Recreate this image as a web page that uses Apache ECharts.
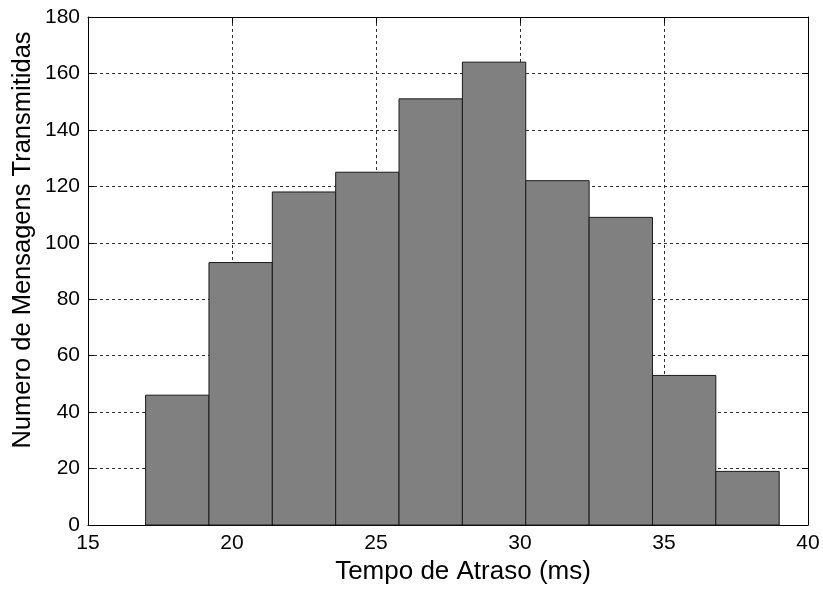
<!DOCTYPE html>
<html>
<head>
<meta charset="utf-8">
<script src="https://cdn.jsdelivr.net/npm/echarts@6/dist/echarts.min.js"></script>
<style>
html,body{margin:0;padding:0;background:#fff;}
#chart{width:823px;height:590px;}
</style>
</head>
<body>
<div id="chart"></div>
<script>
// Histogram bin edges (ms)
var binEdges = [17, 19.2, 21.4, 23.6, 25.8, 28, 30.2, 32.4, 34.6, 36.8, 39];
// Counts per bin
var counts = [46, 93, 118, 125, 151, 164, 122, 109, 53, 19];
var xTicks = [15, 20, 25, 30, 35, 40];
var yTicks = [0, 20, 40, 60, 80, 100, 120, 140, 160, 180];
var xTitle = 'Tempo de Atraso (ms)';
var yTitle = 'Numero de Mensagens Transmitidas';

var data = counts.map(function (c, i) { return [binEdges[i], binEdges[i + 1], c]; });

var font = '"Liberation Sans", Arial, sans-serif';
var chart = echarts.init(document.getElementById('chart'));
var gridLine = { show: true, lineStyle: { color: '#333', width: 1, type: [3, 3] } };
var axisBase = {
  axisLine: { show: true, onZero: false, lineStyle: { color: '#000', width: 1 } },
  axisTick: { show: true, inside: true, length: 6, lineStyle: { color: '#000' } }
};
chart.setOption({
  animation: false,
  backgroundColor: '#fff',
  grid: { left: 88, right: 15, top: 17, bottom: 65, containLabel: false },
  xAxis: [
    Object.assign({
      type: 'value', min: xTicks[0], max: xTicks[xTicks.length - 1], interval: 5,
      axisLabel: { color: '#000', fontSize: 21, fontFamily: font, margin: 8 },
      splitLine: gridLine
    }, axisBase),
    Object.assign({
      type: 'value', position: 'top', min: xTicks[0], max: xTicks[xTicks.length - 1], interval: 5,
      axisLabel: { show: false }, splitLine: { show: false }
    }, axisBase)
  ],
  yAxis: [
    Object.assign({
      type: 'value', min: yTicks[0], max: yTicks[yTicks.length - 1], interval: 20,
      axisLabel: { color: '#000', fontSize: 21, fontFamily: font, margin: 8 },
      splitLine: gridLine
    }, axisBase),
    Object.assign({
      type: 'value', position: 'right', min: yTicks[0], max: yTicks[yTicks.length - 1], interval: 20,
      axisLabel: { show: false }, splitLine: { show: false }
    }, axisBase)
  ],
  graphic: [
    { type: 'text', x: 463, y: 572,
      style: { text: xTitle, font: '26px ' + font, fill: '#000', align: 'center', verticalAlign: 'middle' } },
    { type: 'text', x: 23, y: 240, rotation: Math.PI / 2,
      style: { text: yTitle, font: '25.5px ' + font, fill: '#000', align: 'center', verticalAlign: 'middle' } }
  ],
  series: [{
    type: 'custom',
    xAxisIndex: 0, yAxisIndex: 0,
    data: data,
    encode: { x: [0, 1], y: 2 },
    renderItem: function (params, api) {
      var p0 = api.coord([api.value(0), 0]);
      var p1 = api.coord([api.value(1), api.value(2)]);
      return {
        type: 'rect',
        shape: { x: p0[0], y: p1[1], width: p1[0] - p0[0], height: p0[1] - p1[1] },
        style: { fill: '#808080', stroke: '#1a1a1a', lineWidth: 1 }
      };
    }
  }]
});
</script>
</body>
</html>
